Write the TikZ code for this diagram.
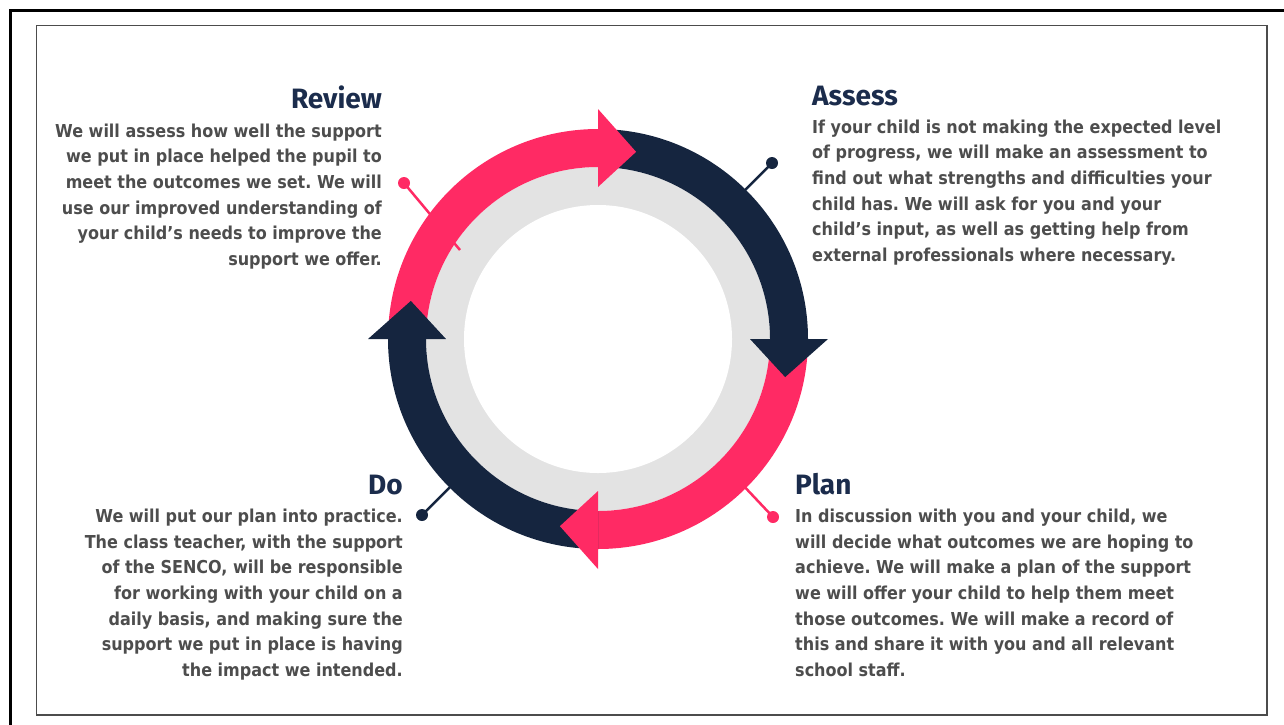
\documentclass[tikz,border=0pt]{standalone}
\usepackage{fontspec}
\setmainfont{Fira Sans}
\newfontfamily\bodyfont{DejaVu Sans Condensed}
\usepackage{xcolor}
\frenchspacing

\definecolor{cyclepink}{HTML}{FF2A64}
\definecolor{cyclenavy}{HTML}{15253F}
\definecolor{ringgrey}{HTML}{E3E3E3}
\definecolor{bodygrey}{HTML}{4D4D4D}
\definecolor{headnavy}{HTML}{1B2C4C}

\tikzset{
	heading/.style={inner sep=0, font=\fontsize{28}{32}\selectfont\bfseries, text=headnavy},
	bodytext/.style={inner sep=0, font=\bodyfont\fontsize{17.8}{25.6}\selectfont\bfseries, text=bodygrey},
	pindot/.style={circle, inner sep=0, minimum size=12, fill=#1},
	pinline/.style={line width=2.5, draw=#1},
}

% ring segment and arrow head, angles in degrees
\newcommand{\ringarc}[3]{\fill[#1] (#2:210) arc[start angle=#2, end angle=#3, radius=210] -- (#3:172) arc[start angle=#3, end angle=#2, radius=172] -- cycle;}
\newcommand{\ringhead}[2]{\fill[#1] (#2:152) -- (#2:230) -- ({#2-11.5}:191) -- cycle;}

\begin{document}
\begin{tikzpicture}[x=1pt, y=-1pt]
	\useasboundingbox (0,0) rectangle (1284,724);
	% Frames:
	\draw[line width=3] (1290,10) -| (10,730);
	\draw[line width=1.5, draw=black!70] (36.5,25.5) rectangle (1267,715);
	% Grey ring:
	\begin{scope}[shift={(598,339)}, yscale=-1]
		\fill[ringgrey] (0,0) circle[radius=172];
		\fill[white] (0,0) circle[radius=134];
	\end{scope}
	% Pins:
	\node[pindot=cyclepink] (reviewdot) at (404,183) {};
	\coordinate (reviewfoot) at (460,250);
	\draw[pinline=cyclepink] (reviewdot.center) -- (reviewfoot);
	\node[pindot=cyclenavy] (assessdot) at (772,163) {};
	\coordinate (assessfoot) at (740,195);
	\draw[pinline=cyclenavy] (assessdot.center) -- (assessfoot);
	\node[pindot=cyclepink] (plandot) at (773,517) {};
	\coordinate (planfoot) at (740,482);
	\draw[pinline=cyclepink] (plandot.center) -- (planfoot);
	\node[pindot=cyclenavy] (dodot) at (422,515) {};
	\coordinate (dofoot) at (455,482);
	\draw[pinline=cyclenavy] (dodot.center) -- (dofoot);
	% Cycle arrows:
	\begin{scope}[shift={(598,339)}, yscale=-1]
		\ringarc{cyclepink}{180}{90}
		\ringarc{cyclenavy}{90}{0}
		\ringarc{cyclepink}{0}{-90}
		\ringarc{cyclenavy}{-90}{-180}
		\ringhead{cyclepink}{90}
		\ringhead{cyclenavy}{0}
		\ringhead{cyclepink}{-90}
		\ringhead{cyclenavy}{180}
	\end{scope}
	% Texts:
	\node[heading, anchor=base east] (reviewhead) at (382,108) {Review};
	\node[bodytext, anchor=north east, align=right] (reviewtext) at (382,123.5) {We will assess how well the support\\we put in place helped the pupil to\\meet the outcomes we set. We will\\use our improved understanding of\\your child’s needs to improve the\\support we offer.};
	\node[heading, anchor=base west] (assesshead) at (812,105) {Assess};
	\node[bodytext, anchor=north west, align=left] (assesstext) at (812,119.5) {If your child is not making the expected level\\of progress, we will make an assessment to\\find out what strengths and difficulties your\\child has. We will ask for you and your\\child’s input, as well as getting help from\\external professionals where necessary.};
	\node[heading, anchor=base west] (planhead) at (795,494) {Plan};
	\node[bodytext, anchor=north west, align=left] (plantext) at (795,509) {In discussion with you and your child, we\\will decide what outcomes we are hoping to\\achieve. We will make a plan of the support\\we will offer your child to help them meet\\those outcomes. We will make a record of\\this and share it with you and all relevant\\school staff.};
	\node[heading, anchor=base east] (dohead) at (403,494) {Do};
	\node[bodytext, anchor=north east, align=right] (dotext) at (403,509) {We will put our plan into practice.\\The class teacher, with the support\\of the SENCO, will be responsible\\for working with your child on a\\daily basis, and making sure the\\support we put in place is having\\the impact we intended.};
\end{tikzpicture}
\end{document}
